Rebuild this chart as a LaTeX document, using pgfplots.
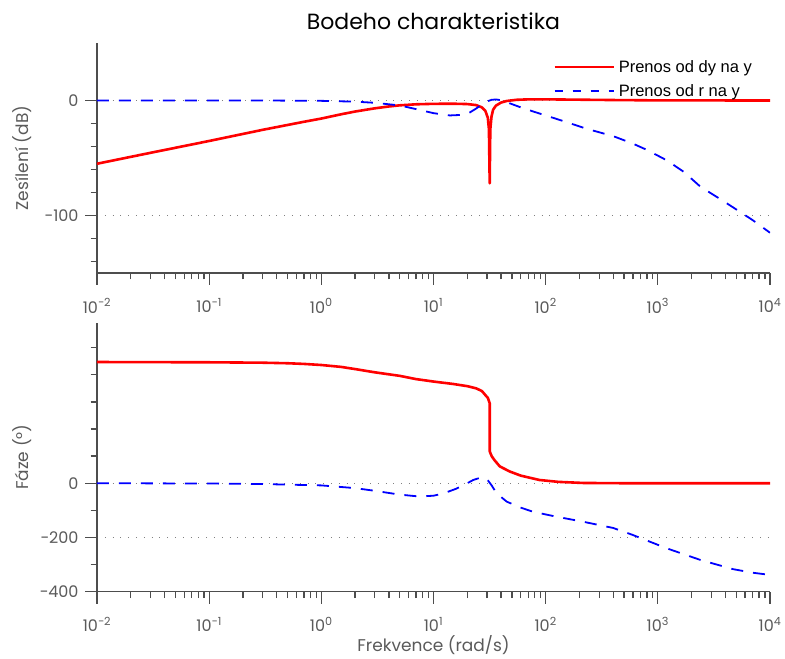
\documentclass[border=0pt]{standalone}
\usepackage{pgfplots}
\pgfplotsset{compat=1.18}
\usepackage{fontspec}
\setmainfont{Poppins}
\newfontfamily\legfont{Liberation Sans}
\definecolor{axgray}{RGB}{77,77,77}
\definecolor{lblgray}{RGB}{90,90,90}
\begin{document}
\begin{tikzpicture}
\useasboundingbox (0pt,0pt) rectangle (785pt,659pt);
\node[anchor=base, font=\fontsize{22}{26}\selectfont] at (433.5pt,629.7pt) {Bodeho charakteristika};
\begin{axis}[at={(97pt,386pt)}, anchor=south west, height=230pt,
    scale only axis, width=673pt,
    xmode=log, xmin=0.01, xmax=10000,
    axis lines*=left,
    axis line style={axgray, line width=1.3pt},
    tick align=outside,
    major tick length=12pt, minor tick length=6.5pt,
    tick style={axgray, line width=1.3pt},
    tick label style={font=\fontsize{16}{18}\selectfont, text=lblgray},
    xticklabel style={yshift=-10pt},
    yticklabel style={xshift=-3pt},
    xtick={0.01,0.1,1,10,100,1000,10000},
    xticklabels={10\textsuperscript{−2},10\textsuperscript{−1},10\textsuperscript{0},10\textsuperscript{1},10\textsuperscript{2},10\textsuperscript{3},10\textsuperscript{4}},
    minor xtick={0.02,0.03,0.04,0.05,0.06,0.07,0.08,0.09,0.2,0.3,0.4,0.5,0.6,0.7,0.8,0.9,2,3,4,5,6,7,8,9,20,30,40,50,60,70,80,90,200,300,400,500,600,700,800,900,2000,3000,4000,5000,6000,7000,8000,9000},
    ymajorgrids,
    grid style={gray, line width=0.8pt, dash pattern=on 0.8pt off 7pt},
    label style={font=\fontsize{17}{20}\selectfont, text=lblgray},
    ylabel style={at={(axis description cs:0,0.5)}, anchor=center, yshift=75pt},
  ymin=-150, ymax=50,
  ytick={-100,0}, yticklabels={−100,0},
  minor ytick={-140,-120,-80,-60,-40,-20},
  ylabel={Zesílení (dB)},
  legend style={at={(axis description cs:1,1)}, anchor=north east, xshift=-13pt, yshift=-13pt,
    draw=none, fill=none, font=\legfont\fontsize{16.5}{18}\selectfont, row sep=7pt,
    /tikz/every odd column/.append style={column sep=2pt}},
  legend cell align=left,
]
\addplot[red, line width=2.6pt, line join=round,
  legend image code/.code={\draw[red, line width=2.6pt] (0pt,0pt) -- (59pt,0pt);}] coordinates {(0.01,-55) (0.03,-45.5) (0.1,-35.2) (0.3,-25.5) (0.7,-18.5) (1,-15.7) (1.5,-12) (2,-9.6) (3,-6.8) (4,-5.2) (5,-4.2) (7,-3.3) (10,-2.9) (15,-2.8) (20,-3.1) (24,-4) (27,-6) (29,-9) (30.5,-15) (31.2,-25) (31.7,-72) (32.1,-25) (32.9,-14) (34,-8) (36,-4.5) (40,-1.8) (45,-0.4) (55,0.6) (70,1) (100,1) (200,0.7) (400,0.4) (1000,0.1) (10000,0)};
\addlegendentry{Prenos od dy na y}
\addplot[blue, line width=1.8pt, dash pattern=on 12pt off 10pt,
  legend image code/.code={\draw[blue, line width=1.8pt, dash pattern=on 8pt off 10pt] (0pt,0pt) -- (59pt,0pt);}] coordinates {(0.01,0) (0.3,0) (1,-0.3) (2,-1) (3,-2) (5,-4.3) (7,-7.5) (10,-11) (14,-13) (18,-12.5) (21,-10.5) (24,-7) (27,-3.5) (30,-0.8) (33,0.6) (36,0.9) (40,0.3) (48,-2.5) (60,-6) (80,-10) (100,-13) (150,-18.5) (230,-24.5) (400,-31) (600,-37.5) (800,-43) (1200,-52) (1700,-62) (2400,-75) (3500,-85) (4700,-93) (7000,-104) (10000,-115)};
\addlegendentry{Prenos od r na y}
\end{axis}
\begin{axis}[at={(97pt,67.3pt)}, anchor=south west, height=269pt,
    scale only axis, width=673pt,
    xmode=log, xmin=0.01, xmax=10000,
    axis lines*=left,
    axis line style={axgray, line width=1.3pt},
    tick align=outside,
    major tick length=12pt, minor tick length=6.5pt,
    tick style={axgray, line width=1.3pt},
    tick label style={font=\fontsize{16}{18}\selectfont, text=lblgray},
    xticklabel style={yshift=-10pt},
    yticklabel style={xshift=-3pt},
    xtick={0.01,0.1,1,10,100,1000,10000},
    xticklabels={10\textsuperscript{−2},10\textsuperscript{−1},10\textsuperscript{0},10\textsuperscript{1},10\textsuperscript{2},10\textsuperscript{3},10\textsuperscript{4}},
    minor xtick={0.02,0.03,0.04,0.05,0.06,0.07,0.08,0.09,0.2,0.3,0.4,0.5,0.6,0.7,0.8,0.9,2,3,4,5,6,7,8,9,20,30,40,50,60,70,80,90,200,300,400,500,600,700,800,900,2000,3000,4000,5000,6000,7000,8000,9000},
    ymajorgrids,
    grid style={gray, line width=0.8pt, dash pattern=on 0.8pt off 7pt},
    label style={font=\fontsize{17}{20}\selectfont, text=lblgray},
    ylabel style={at={(axis description cs:0,0.5)}, anchor=center, yshift=75pt},
  ymin=-400, ymax=592,
  ytick={-400,-200,0}, yticklabels={−400,−200,0},
  minor ytick={-300,-100,100,200,300,400,500},
  ylabel={Fáze (°)},
  xlabel={Frekvence (rad/s)},
  xlabel style={at={(axis description cs:0.5,0)}, anchor=center, yshift=-53pt},
]
\addplot[red, line width=2.6pt, line join=round] coordinates {(0.01,447) (0.1,446) (0.3,444.5) (0.5,442.5) (0.7,440) (1,436) (1.5,429) (2,421) (3,409) (5,396) (7,384) (10,375) (15,366) (20,358) (24,350) (27,340) (30.6,314) (31.7,295) (31.75,117) (33,100) (35,85) (39,62) (48,43) (60,28) (88,12) (130,5) (216,1) (500,0) (10000,0)};
\addplot[blue, line width=1.8pt, dash pattern=on 12pt off 10pt] coordinates {(0.01,0) (0.1,-1) (0.3,-3) (1,-8) (2,-18) (3,-28) (5,-42) (7.5,-49) (10,-46) (12.2,-38) (16,-20) (20,0) (22.6,12) (26,20) (28,22) (30.6,10) (33,-8) (36.5,-37) (45,-68) (60,-90) (77,-105) (120,-122) (216,-142) (400,-165) (600,-191) (1200,-240) (2400,-283) (4700,-317) (7000,-330) (10000,-338)};
\end{axis}
\end{tikzpicture}
\end{document}
